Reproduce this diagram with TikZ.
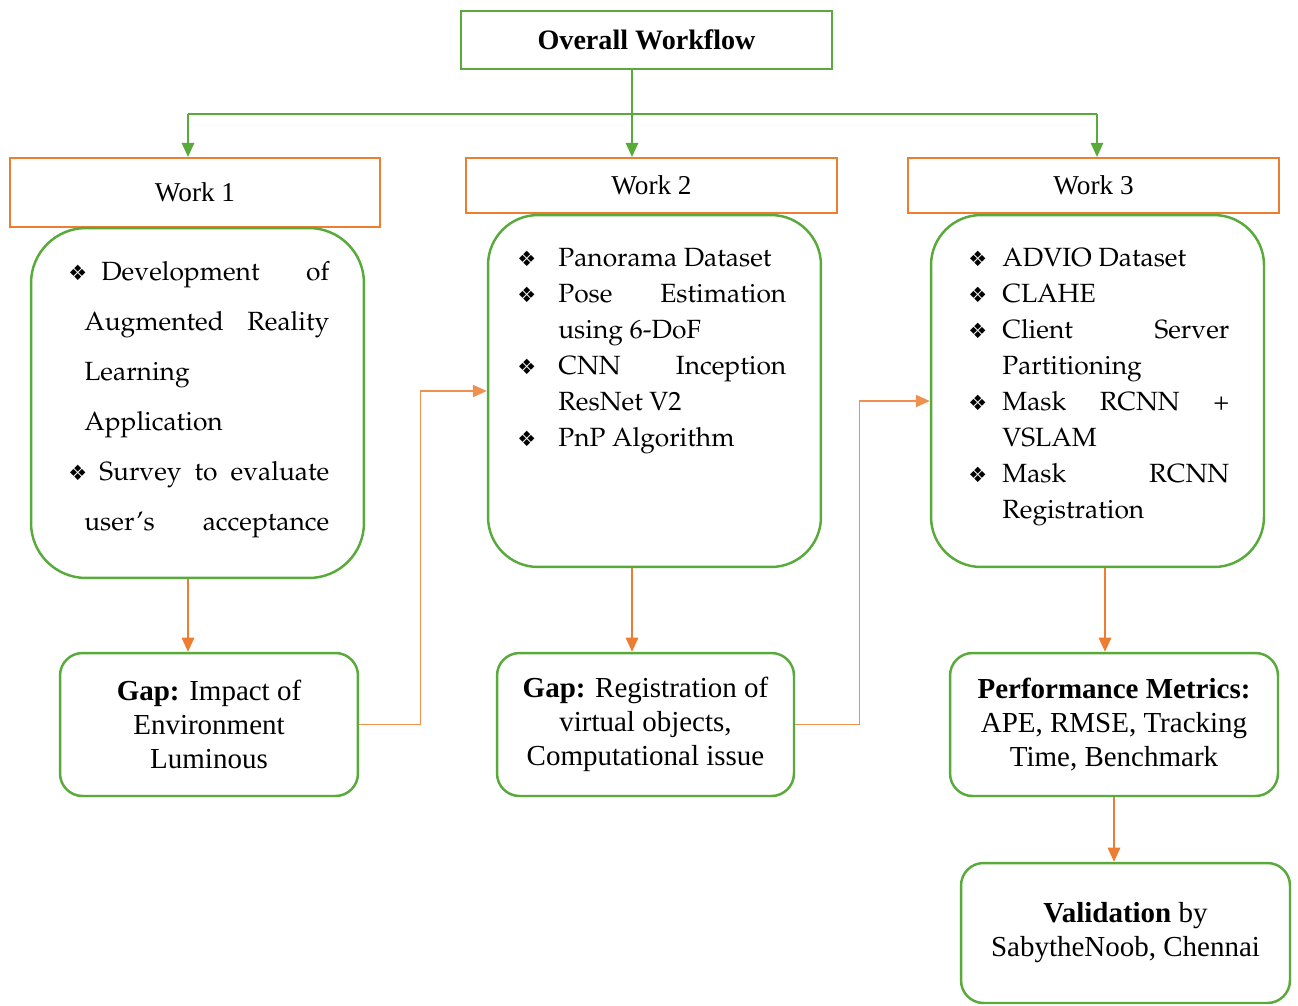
\documentclass[tikz,border=0pt]{standalone}
\usepackage[T1]{fontenc}
\usepackage{fontspec}
\setmainfont{Liberation Serif}
\newfontfamily\dingfont{DejaVu Sans}
\usetikzlibrary{arrows.meta,positioning}

\definecolor{boxgreen}{RGB}{88,170,58}
\definecolor{boxorange}{RGB}{237,125,49}

\newcommand{\pal}{\fontencoding{T1}\fontfamily{ppl}\selectfont}
\newcommand{\bul}[1]{\makebox[#1][l]{\dingfont\fontsize{12}{12}\selectfont\char"2756}}

\tikzset{
  title/.style={draw=boxgreen,line width=1.3pt,minimum width=7.42cm,minimum height=1.16cm,
    font=\fontsize{16}{19}\selectfont\bfseries},
  worktitle/.style={draw=boxorange,line width=1.2pt,minimum width=7.42cm,minimum height=1.1cm,
    font=\fontsize{15.5}{18}\selectfont},
  workbox/.style={draw=boxgreen,line width=1.4pt,rounded corners=1cm,
    minimum width=6.66cm,minimum height=7.04cm},
  gapbox/.style={draw=boxgreen,line width=1.4pt,rounded corners=0.45cm,minimum height=2.86cm,
    align=center,font=\fontsize{16.5}{19.3}\selectfont},
  points/.style={anchor=north west,inner sep=0pt,align=left,
    font=\pal\fontsize{15}{20.5}\selectfont},
  branch/.style={draw=boxgreen,line width=1.1pt,-{Triangle[length=8pt,width=7pt]}},
  flow/.style={draw=boxorange,line width=1.2pt,-{Triangle[length=8pt,width=7pt]}},
  link/.style={draw=boxorange!85,line width=0.8pt,-{Triangle[length=8pt,width=7pt]}}
}

\begin{document}
\begin{tikzpicture}[x=0.02cm,y=-0.02cm]
\useasboundingbox (0,0) rectangle (1298,1005);

\node(overall) at (646.5,40)[title]        {Overall Workflow};
\node(wt1) at (195,192.5)[worktitle,minimum width=7.4cm,minimum height=1.38cm] {Work 1};
\node(wt2) at (651.5,185.5)[worktitle]     {Work 2};
\node(wt3) at (1093.5,185.5)[worktitle]    {Work 3};

\node(bx1) at (197.5,403)[workbox,minimum height=7cm,rounded corners=1.1cm] {};
\node(bx2) at (654.5,391)[workbox]         {};
\node(bx3) at (1097.5,391)[workbox]        {};

\node(pts1) at (68,261)[points,font=\pal\fontsize{15}{28.5}\selectfont]{%
\bul{0.66cm}\makebox[4.56cm][s]{Development of}\\
\hspace*{0.32cm}\makebox[4.9cm][s]{Augmented Reality}\\
\hspace*{0.32cm}Learning\\
\hspace*{0.32cm}Application\\
\bul{0.62cm}\makebox[4.6cm][s]{Survey to evaluate}\\
\hspace*{0.32cm}\makebox[4.9cm][s]{user's acceptance}};

\node(pts2) at (517,248)[points]{%
\bul{0.82cm}Panorama Dataset\\
\bul{0.82cm}\makebox[4.56cm][s]{Pose Estimation}\\
\hspace*{0.82cm}using 6-DoF\\
\bul{0.82cm}\makebox[4.56cm][s]{CNN Inception}\\
\hspace*{0.82cm}ResNet V2\\
\bul{0.82cm}PnP Algorithm};

\node(pts3) at (968,248)[points]{%
\bul{0.68cm}ADVIO Dataset\\
\bul{0.68cm}CLAHE\\
\bul{0.68cm}\makebox[4.54cm][s]{Client Server}\\
\hspace*{0.68cm}Partitioning\\
\bul{0.68cm}\makebox[4.54cm][s]{Mask RCNN +}\\
\hspace*{0.68cm}VSLAM\\
\bul{0.68cm}\makebox[4.54cm][s]{Mask RCNN}\\
\hspace*{0.68cm}Registration};

\node(gap1) at (209,724.5)[gapbox,minimum width=5.96cm]
  {\textbf{Gap:} Impact of\\Environment\\Luminous};
\node(gap2) at (645.5,724.5)[gapbox,minimum width=5.94cm]
  {\textbf{Gap:} Registration of\\virtual objects,\\Computational issue};
\node(perf) at (1114,724.5)[gapbox,minimum width=6.56cm]
  {\textbf{Performance Metrics:}\\APE, RMSE, Tracking\\Time, Benchmark};
\node(valid) at (1125.5,933)[gapbox,minimum width=6.58cm,minimum height=2.8cm]
  {\textbf{Validation} by\\SabytheNoob, Chennai};

% branching from the top box
\coordinate(split) at (632,114);
\coordinate(lsplit) at (188,114);
\coordinate(rsplit) at (1097,114);
\draw[boxgreen,line width=0.8pt] (lsplit) -- (rsplit);
\draw[branch] (overall.south -| split) -- (wt2.north -| split);
\draw[branch] (lsplit) -- (wt1.north -| lsplit);
\draw[branch] (rsplit) -- (wt3.north -| rsplit);

% works to their outcomes
\draw[flow] (bx1.south -| lsplit) -- (gap1.north -| lsplit);
\draw[flow] (bx2.south -| split) -- (gap2.north -| split);
\draw[flow] ([xshift=0.15cm]bx3.south) -- ([xshift=0.15cm]bx3.south |- perf.north);
\draw[flow] (perf.south) -- (perf.south |- valid.north);

% gaps feed the next work
\draw[link] (gap1.east) -- ++(61,0) |- (bx2.west);
\draw[link] (gap2.east) -- ++(64,0) |- ([yshift=-0.2cm]bx3.west);

\end{tikzpicture}
\end{document}
